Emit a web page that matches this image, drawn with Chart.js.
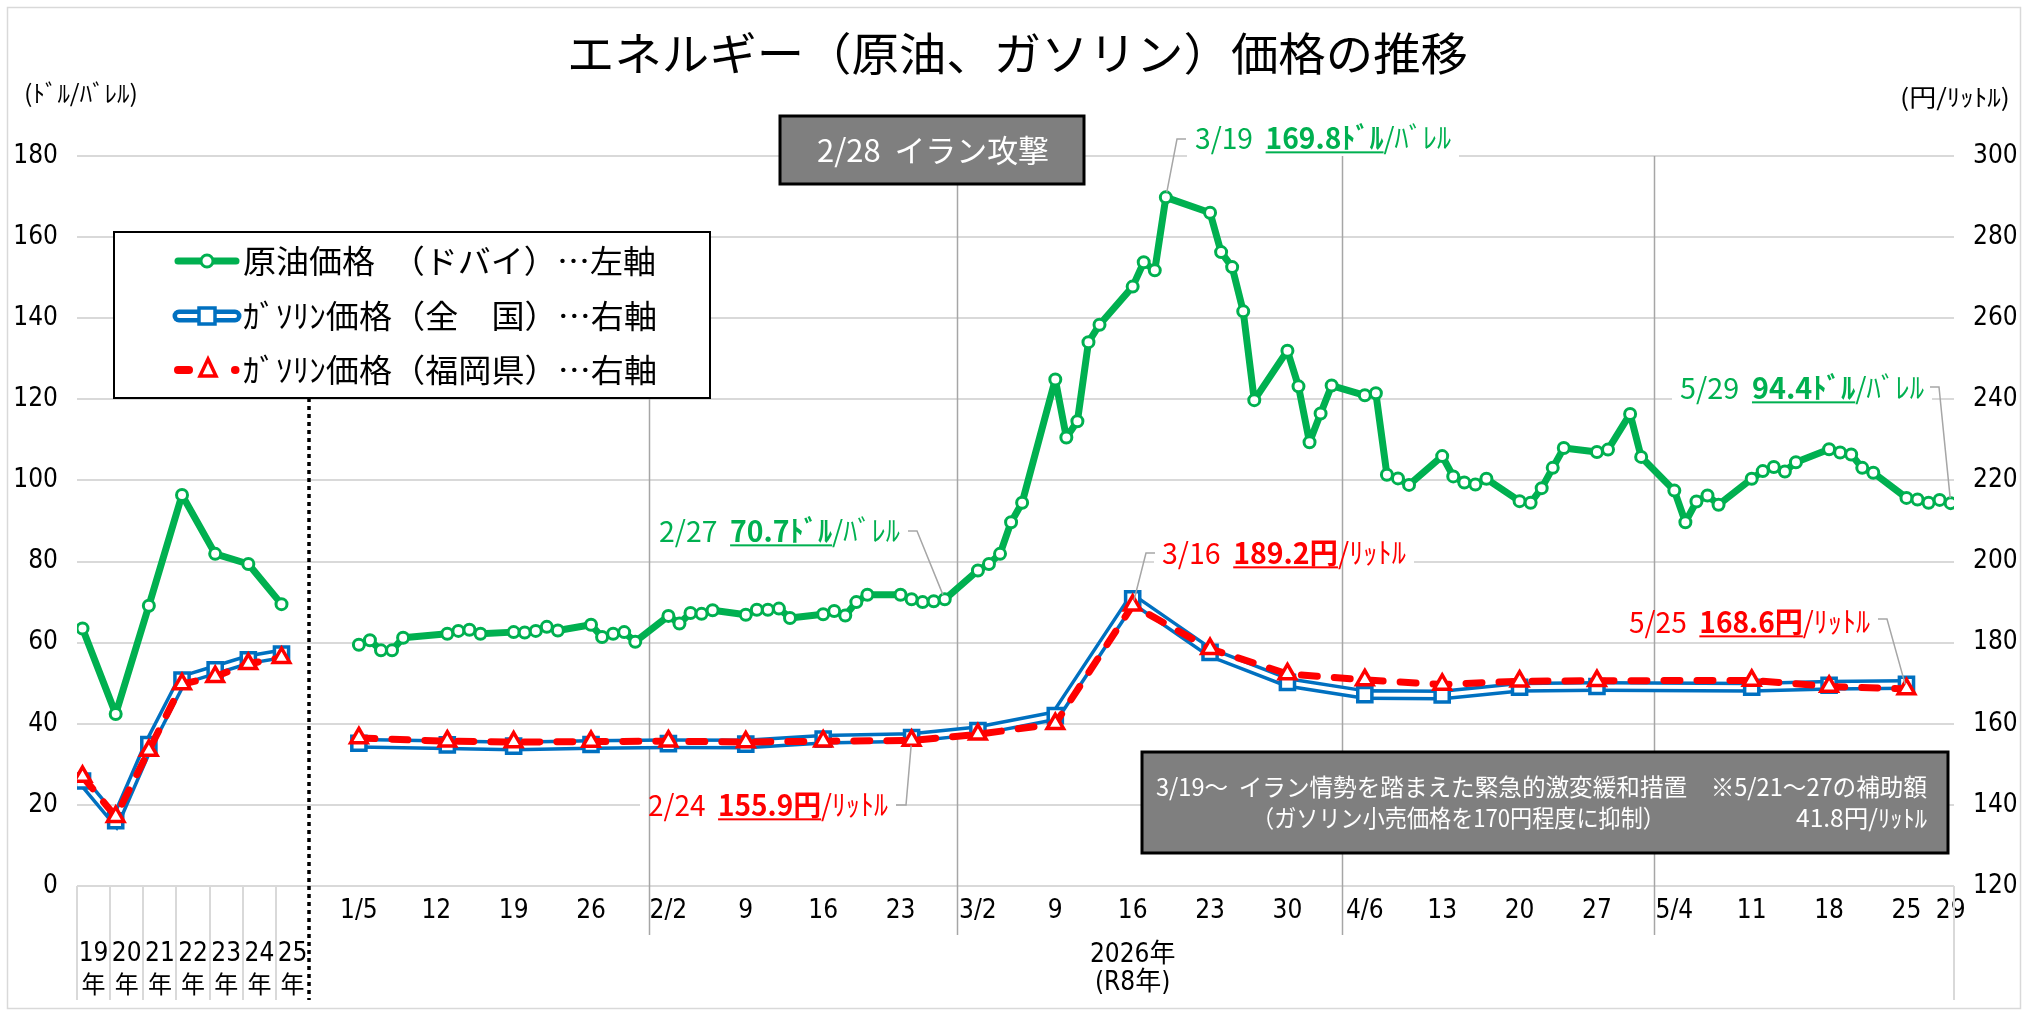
<!DOCTYPE html>
<html lang="ja">
<head>
<meta charset="utf-8">
<title>エネルギー（原油、ガソリン）価格の推移</title>
<script src="https://cdn.jsdelivr.net/npm/chart.js@4.4.1/dist/chart.umd.min.js"></script>
<style>
  html, body { margin: 0; padding: 0; background: #fff; }
  canvas { display: block; }
</style>
</head>
<body>
<canvas id="myChart" width="2033" height="1010"></canvas>
<script>
// ===== data =====
// 年平均（19年〜25年）
const yearLabels = ['19', '20', '21', '22', '23', '24', '25'];
const crudeYear = [63.5, 42.4, 69.1, 96.4, 81.9, 79.4, 69.5];      // ドル/バレル
const gasYear = [145.9, 136.1, 154.9, 170.8, 173.3, 175.8, 177.2];   // 円/リットル 全国
const fukuokaYear = [147.0, 137.1, 153.4, 169.8, 171.6, 174.8, 176.3]; // 円/リットル 福岡県

// 2026年 原油（ドバイ）日次
const crudeDates = [
  '1/5', '1/6', '1/7', '1/8', '1/9', '1/13', '1/14', '1/15', '1/16',
  '1/19', '1/20', '1/21', '1/22', '1/23', '1/26', '1/27', '1/28', '1/29', '1/30',
  '2/2', '2/3', '2/4', '2/5', '2/6', '2/9', '2/10', '2/11', '2/12', '2/13',
  '2/16', '2/17', '2/18', '2/19', '2/20', '2/23', '2/24', '2/25', '2/26', '2/27',
  '3/2', '3/3', '3/4', '3/5', '3/6', '3/9', '3/10', '3/11', '3/12', '3/13',
  '3/16', '3/17', '3/18', '3/19', '3/23', '3/24', '3/25', '3/26', '3/27',
  '3/30', '3/31', '4/1', '4/2', '4/3', '4/6', '4/7', '4/8', '4/9', '4/10',
  '4/13', '4/14', '4/15', '4/16', '4/17', '4/20', '4/21', '4/22', '4/23', '4/24',
  '4/27', '4/28', '4/30', '5/1', '5/4', '5/5', '5/6', '5/7', '5/8',
  '5/11', '5/12', '5/13', '5/14', '5/15', '5/18', '5/19', '5/20', '5/21', '5/22',
  '5/25', '5/26', '5/27', '5/28', '5/29'
];
const crudeDaily = [
  59.5, 60.6, 58.1, 58.1, 61.2, 62.2, 62.9, 63.2, 62.2,
  62.6, 62.5, 62.9, 63.9, 63.0, 64.4, 61.4, 62.2, 62.6, 60.2,
  66.6, 64.7, 67.3, 67.1, 68.0, 66.9, 68.1, 68.1, 68.4, 66.1,
  67.0, 67.8, 66.7, 70.0, 71.8, 71.8, 70.7, 70.0, 70.2, 70.7,
  77.8, 79.4, 81.9, 89.7, 94.5, 124.9, 110.6, 114.6, 134.1, 138.4,
  147.8, 153.8, 151.8, 169.8, 166.0, 156.3, 152.6, 141.7, 119.8,
  132.0, 123.2, 109.4, 116.5, 123.4, 121.0, 121.5, 101.4, 100.5, 98.9,
  106.0, 101.0, 99.5, 99.0, 100.4, 94.9, 94.5, 98.1, 103.1, 108.0,
  107.0, 107.6, 116.4, 105.8, 97.5, 89.7, 94.8, 96.3, 94.0,
  100.4, 102.3, 103.3, 102.2, 104.5, 107.7, 106.9, 106.4, 103.1, 101.9,
  95.7, 95.3, 94.5, 95.2, 94.4
];

// 2026年 ガソリン 週次
const gasWeeks = ['1/5', '1/13', '1/19', '1/26', '2/2', '2/9', '2/16', '2/24', '3/2', '3/9',
  '3/16', '3/23', '3/30', '4/6', '4/13', '4/20', '4/27', '5/11', '5/18', '5/25'];
const gasNational = [155.2, 154.8, 154.5, 154.9, 155.1, 155.0, 156.2, 156.6, 158.3, 162.0,
  190.8, 177.6, 170.2, 167.2, 167.1, 169.0, 169.2, 169.0, 169.5, 169.7];
const gasFukuoka = [156.5, 155.7, 155.5, 155.6, 155.7, 155.5, 155.7, 155.9, 157.4, 160.0,
  189.2, 178.5, 172.3, 170.8, 169.7, 170.5, 170.6, 170.7, 169.2, 168.6];

// x軸の目盛り（週）
const weekTicks = ['1/5', '1/12', '1/19', '1/26', '2/2', '2/9', '2/16', '2/23', '3/2', '3/9',
  '3/16', '3/23', '3/30', '4/6', '4/13', '4/20', '4/27', '5/4', '5/11', '5/18', '5/25', '5/29'];
const leftTicks = [0, 20, 40, 60, 80, 100, 120, 140, 160, 180];
const rightTicks = [120, 140, 160, 180, 200, 220, 240, 260, 280, 300];

// ===== helpers =====
const GREEN = '#00B050', BLUE = '#0070C0', RED = '#FF0000', LEAD = '#A6A6A6';
const FONT = '"Noto Sans CJK JP", "Noto Sans", sans-serif';
const NARROW = '"Liberation Sans Narrow", "DejaVu Sans Condensed", "Noto Sans CJK JP", sans-serif';

const monthStart = [0, 31, 59, 90, 120, 151];
function dayOf(md) {
  const [m, d] = md.split('/').map(Number);
  return monthStart[m - 1] + d;
}
// 年平均は日付軸の左側に3日おきで並べる
const yearX = i => -20 + 3 * i;

function series(yearVals, dates, vals) {
  const pts = yearVals.map((v, i) => ({ x: yearX(i), y: v }));
  pts.push({ x: 1.5, y: null }); // 年平均と週次の間は切る
  dates.forEach((d, i) => pts.push({ x: dayOf(d), y: vals[i] }));
  return pts;
}

// 各月の最初の目盛りだけ "月/日"
const tickText = {};
const seenMonth = {};
weekTicks.forEach(md => {
  const [m, d] = md.split('/');
  tickText[dayOf(md)] = seenMonth[m] ? d : md;
  seenMonth[m] = true;
});

function seg(ctx, x1, y1, x2, y2) {
  ctx.beginPath(); ctx.moveTo(x1, y1); ctx.lineTo(x2, y2); ctx.stroke();
}

// 文字列を x0〜x1 に収まるよう横に詰めて描く（parts: [文字, 'b'太字/'u'下線]）
function fitText(ctx, parts, x0, x1, y, size, color) {
  ctx.save();
  ctx.textBaseline = 'middle';
  ctx.textAlign = 'left';
  let w = 0;
  const ws = parts.map(([t, s]) => {
    ctx.font = (s.includes('b') ? 'bold ' : '') + size + 'px ' + FONT;
    const m = ctx.measureText(t).width;
    w += m;
    return m;
  });
  const k = (x1 - x0) / w;
  ctx.translate(x0, y);
  ctx.scale(k, 1);
  ctx.fillStyle = color;
  let cx = 0;
  parts.forEach(([t, s], i) => {
    ctx.font = (s.includes('b') ? 'bold ' : '') + size + 'px ' + FONT;
    ctx.fillText(t, cx, 0);
    if (s.includes('u')) ctx.fillRect(cx, size * 0.46, ws[i], 2);
    cx += ws[i];
  });
  ctx.restore();
}

function centerText(ctx, t, x, y, size, font, color) {
  ctx.save();
  ctx.font = size + 'px ' + font;
  ctx.fillStyle = color;
  ctx.textAlign = 'center';
  ctx.textBaseline = 'middle';
  ctx.fillText(t, x, y);
  ctx.restore();
}

// データラベル（吹き出し）
const notes = [
  { parts: [['2/27  ', ''], ['70.7ﾄﾞﾙ', 'bu'], ['/ﾊﾞﾚﾙ', '']], color: GREEN,
    x0: 659, x1: 900, y: 531, lead: [[908, 531], [917, 531]], date: '2/27', kind: 'crude' },
  { parts: [['3/19  ', ''], ['169.8ﾄﾞﾙ', 'bu'], ['/ﾊﾞﾚﾙ', '']], color: GREEN,
    x0: 1195, x1: 1451, y: 138, lead: [[1186, 139], [1177, 139]], date: '3/19', kind: 'crude' },
  { parts: [['5/29  ', ''], ['94.4ﾄﾞﾙ', 'bu'], ['/ﾊﾞﾚﾙ', '']], color: GREEN,
    x0: 1680, x1: 1924, y: 388, lead: [[1930, 387], [1939, 387]], date: '5/29', kind: 'crude' },
  { parts: [['3/16  ', ''], ['189.2円', 'bu'], ['/ﾘｯﾄﾙ', '']], color: RED,
    x0: 1162, x1: 1406, y: 553, lead: [[1155, 553], [1146, 553]], date: '3/16', kind: 'fukuoka' },
  { parts: [['2/24  ', ''], ['155.9円', 'bu'], ['/ﾘｯﾄﾙ', '']], color: RED,
    x0: 648, x1: 888, y: 805, lead: [[896, 805], [906, 805]], date: '2/24', kind: 'fukuoka' },
  { parts: [['5/25  ', ''], ['168.6円', 'bu'], ['/ﾘｯﾄﾙ', '']], color: RED,
    x0: 1629, x1: 1870, y: 622, lead: [[1878, 619], [1887, 619]], date: '5/25', kind: 'fukuoka' }
];

const deco = {
  id: 'deco',
  beforeDatasetsDraw(chart) {
    const { ctx, chartArea: a, scales: { x } } = chart;
    ctx.save();
    // ラベルの白地（目盛線を隠す）
    ctx.fillStyle = '#fff';
    notes.forEach(n => ctx.fillRect(n.x0 - 8, n.y - 19, n.x1 - n.x0 + 16, 38));
    // 年の区切り線
    ctx.strokeStyle = '#D9D9D9';
    ctx.lineWidth = 2;
    yearLabels.forEach((_, i) => {
      const px = Math.round(x.getPixelForValue(yearX(i) - 0.5));
      seg(ctx, px, a.bottom, px, 1000);
    });
    seg(ctx, a.right, a.bottom, a.right, 1000);
    // 月の区切り線
    ctx.strokeStyle = LEAD;
    ctx.lineWidth = 1.5;
    [[31.2, 398], [59.1, 184], [93.9, a.top], [122.2, a.top]].forEach(([d, top]) => {
      const px = Math.round(x.getPixelForValue(d)) + 0.5;
      seg(ctx, px, top, px, 935);
    });
    // 年平均と週次の境目（点線）
    ctx.strokeStyle = '#000';
    ctx.lineWidth = 3.5;
    ctx.setLineDash([4, 4]);
    const dx = Math.round(x.getPixelForValue(0.5));
    seg(ctx, dx, 398, dx, 1000);
    ctx.restore();
  },
  afterDraw(chart) {
    const { ctx, chartArea: a, scales: { x, y, y2 } } = chart;
    ctx.save();

    // タイトル・単位
    fitText(ctx, [['エネルギー（原油、ガソリン）価格の推移', '']], 567, 1468, 54, 45, '#000');
    fitText(ctx, [['(ﾄﾞﾙ/ﾊﾞﾚﾙ)', '']], 24, 138, 93, 24, '#000');
    fitText(ctx, [['(円/ﾘｯﾄﾙ)', '']], 1900, 2010, 97, 24, '#000');

    // 年平均の目盛りラベルと年表示
    yearLabels.forEach((t, i) => {
      const px = x.getPixelForValue(yearX(i) + 1);
      centerText(ctx, t, px, 954, 26, NARROW, '#000');
      centerText(ctx, '年', px, 984, 24, FONT, '#000');
    });
    const px16 = x.getPixelForValue(dayOf('3/16'));
    centerText(ctx, '2026年', px16, 955, 26, NARROW, '#000');
    centerText(ctx, '(R8年)', px16, 983, 26, NARROW, '#000');

    // 凡例
    ctx.fillStyle = '#fff';
    ctx.fillRect(114, 232, 596, 166);
    ctx.strokeStyle = '#000';
    ctx.lineWidth = 2;
    ctx.strokeRect(114, 232, 596, 166);
    // 原油
    ctx.lineCap = 'round';
    ctx.strokeStyle = GREEN; ctx.lineWidth = 7;
    seg(ctx, 178, 261, 236, 261);
    ctx.fillStyle = '#fff'; ctx.lineWidth = 3;
    ctx.beginPath(); ctx.arc(207, 261, 6, 0, Math.PI * 2); ctx.fill(); ctx.stroke();
    // 全国
    ctx.strokeStyle = BLUE; ctx.lineWidth = 13;
    seg(ctx, 179, 316, 235, 316);
    ctx.strokeStyle = '#fff'; ctx.lineWidth = 4;
    seg(ctx, 179, 316, 235, 316);
    ctx.lineCap = 'butt';
    ctx.strokeStyle = BLUE; ctx.lineWidth = 3.5;
    ctx.fillRect(199, 308, 16, 16); ctx.strokeRect(199, 308, 16, 16);
    // 福岡県
    ctx.lineCap = 'round';
    ctx.strokeStyle = RED; ctx.lineWidth = 8;
    seg(ctx, 178, 370, 189, 370);
    seg(ctx, 235, 370, 235.5, 370);
    ctx.lineWidth = 3.5; ctx.lineJoin = 'miter';
    ctx.beginPath();
    ctx.moveTo(208, 359); ctx.lineTo(216, 376); ctx.lineTo(200, 376); ctx.closePath();
    ctx.fill(); ctx.stroke();
    fitText(ctx, [['原油価格　（ドバイ）…左軸', '']], 243, 656, 261, 32, '#000');
    fitText(ctx, [['ｶﾞｿﾘﾝ価格（全　国）…右軸', '']], 243, 657, 316, 32, '#000');
    fitText(ctx, [['ｶﾞｿﾘﾝ価格（福岡県）…右軸', '']], 243, 657, 370, 32, '#000');

    // 灰色の囲み
    ctx.fillStyle = '#7F7F7F';
    ctx.strokeStyle = '#000';
    ctx.lineWidth = 3;
    ctx.fillRect(780, 116, 304, 68); ctx.strokeRect(780, 116, 304, 68);
    fitText(ctx, [['2/28  イラン攻撃', '']], 817, 1049, 150, 31, '#fff');
    ctx.fillRect(1142, 752, 806, 101); ctx.strokeRect(1142, 752, 806, 101);
    fitText(ctx, [['3/19～  イラン情勢を踏まえた緊急的激変緩和措置　※5/21～27の補助額', '']],
      1156, 1927, 787, 24, '#fff');
    fitText(ctx, [['（ガソリン小売価格を170円程度に抑制）', '']], 1252, 1665, 818, 24, '#fff');
    fitText(ctx, [['41.8円/ﾘｯﾄﾙ', '']], 1796, 1927, 818, 24, '#fff');

    // データラベルと引き出し線
    notes.forEach(n => {
      const isCrude = n.kind === 'crude';
      const dates = isCrude ? crudeDates : gasWeeks;
      const vals = isCrude ? crudeDaily : gasFukuoka;
      const v = vals[dates.indexOf(n.date)];
      const px = x.getPixelForValue(dayOf(n.date));
      const py = (isCrude ? y : y2).getPixelForValue(v);
      const [p0, p1] = n.lead;
      const ang = Math.atan2(p1[1] - py, p1[0] - px);
      ctx.strokeStyle = LEAD;
      ctx.lineWidth = 1.5;
      ctx.lineCap = 'butt';
      ctx.beginPath();
      ctx.moveTo(p0[0], p0[1]);
      ctx.lineTo(p1[0], p1[1]);
      ctx.lineTo(px + Math.cos(ang) * 5, py + Math.sin(ang) * 5);
      ctx.stroke();
      fitText(ctx, n.parts, n.x0, n.x1, n.y, 29, n.color);
    });

    // 外枠
    ctx.strokeStyle = '#D9D9D9';
    ctx.lineWidth = 1.5;
    ctx.strokeRect(7.5, 7.5, 2013, 1001);
    ctx.restore();
  }
};

const tickFont = { family: NARROW, size: 26 };

new Chart(document.getElementById('myChart'), {
  type: 'line',
  data: {
    datasets: [
      {
        label: '原油価格（ドバイ）',
        data: series(crudeYear, crudeDates, crudeDaily),
        yAxisID: 'y',
        borderColor: GREEN,
        borderWidth: 7,
        borderJoinStyle: 'round',
        pointRadius: 5.5,
        pointBorderWidth: 3,
        pointBackgroundColor: '#fff',
        pointBorderColor: GREEN,
        order: 0
      },
      {
        label: 'ガソリン価格（福岡県）',
        data: series(fukuokaYear, gasWeeks, gasFukuoka),
        yAxisID: 'y2',
        borderColor: RED,
        borderWidth: 7,
        borderDash: [16, 17],
        borderCapStyle: 'round',
        pointStyle: 'triangle',
        pointRadius: 9.5,
        pointBorderWidth: 3.5,
        pointBackgroundColor: '#fff',
        pointBorderColor: RED,
        order: 1
      },
      {
        // 全国：マーカー
        label: 'ガソリン価格（全国）',
        data: series(gasYear, gasWeeks, gasNational),
        yAxisID: 'y2',
        showLine: false,
        pointStyle: 'rect',
        pointRadius: 10,
        pointBorderWidth: 3.5,
        pointBackgroundColor: '#fff',
        pointBorderColor: BLUE,
        order: 2
      },
      {
        // 全国：二重線の内側
        data: series(gasYear, gasWeeks, gasNational),
        yAxisID: 'y2',
        borderColor: '#fff',
        borderWidth: 4,
        pointRadius: 0,
        order: 3
      },
      {
        // 全国：二重線の外側
        data: series(gasYear, gasWeeks, gasNational),
        yAxisID: 'y2',
        borderColor: BLUE,
        borderWidth: 11,
        pointRadius: 0,
        order: 4
      }
    ]
  },
  options: {
    responsive: false,
    devicePixelRatio: 1,
    animation: false,
    events: [],
    layout: { padding: { top: 156, left: 0, right: 0, bottom: 0 } },
    plugins: {
      legend: { display: false },
      title: { display: false },
      tooltip: { enabled: false }
    },
    scales: {
      x: {
        type: 'linear',
        min: -20.5,
        max: 149.3,
        afterBuildTicks: s => { s.ticks = weekTicks.map(md => ({ value: dayOf(md) })); },
        afterFit: s => { s.height = 124; },
        ticks: {
          autoSkip: false, maxRotation: 0, minRotation: 0, padding: 10,
          color: '#000', font: tickFont,
          callback: v => tickText[v] ?? ''
        },
        grid: { display: false, drawTicks: false },
        border: { display: false }
      },
      y: {
        position: 'left',
        min: 0, max: 180,
        afterBuildTicks: s => { s.ticks = leftTicks.map(v => ({ value: v })); },
        afterFit: s => { s.width = 77; },
        ticks: { padding: 19, color: '#000', font: tickFont },
        grid: { color: '#D9D9D9', lineWidth: 2, drawTicks: false },
        border: { display: false }
      },
      y2: {
        position: 'right',
        min: 120, max: 300,
        afterBuildTicks: s => { s.ticks = rightTicks.map(v => ({ value: v })); },
        afterFit: s => { s.width = 79; },
        ticks: { padding: 19, color: '#000', font: tickFont },
        grid: { drawOnChartArea: false, drawTicks: false },
        border: { display: false }
      }
    }
  },
  plugins: [deco]
});
</script>
</body>
</html>
